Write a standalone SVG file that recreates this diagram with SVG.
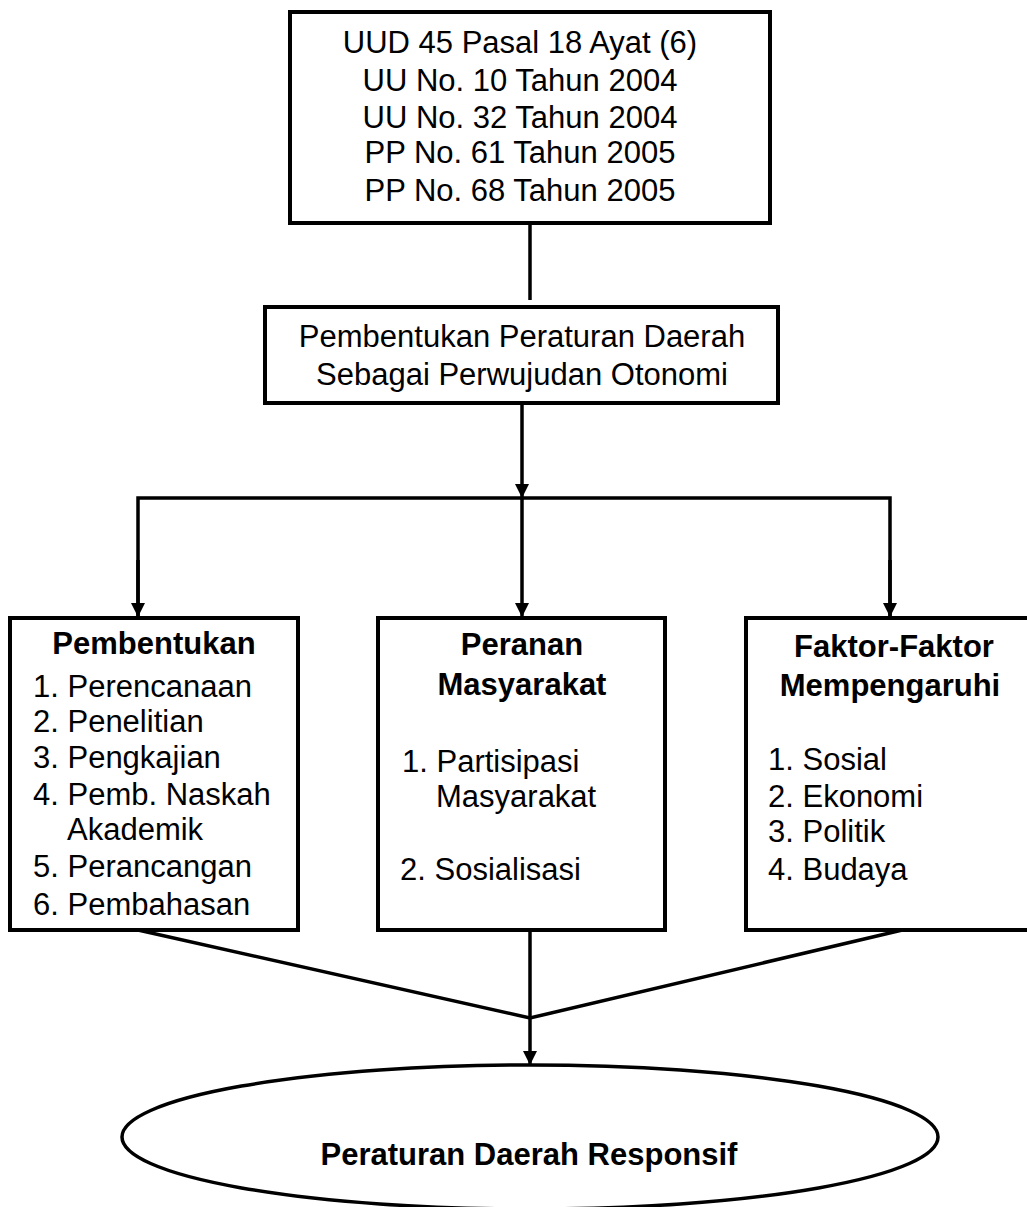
<svg xmlns="http://www.w3.org/2000/svg" width="1027" height="1207" viewBox="0 0 1027 1207">
<style>
.box{fill:#fff;stroke:#000;stroke-width:4}
.ell{fill:#fff;stroke:#000;stroke-width:3.5}
.ln{fill:none;stroke:#000;stroke-width:3.5}
.t{font-family:"Liberation Sans",Arial,sans-serif;font-size:31px;fill:#000}
.c{text-anchor:middle}
.b{font-weight:bold}
</style>
<defs>
<marker id="arr" markerUnits="userSpaceOnUse" markerWidth="16" markerHeight="16" viewBox="0 0 16 16" refX="14" refY="8" orient="auto">
<path d="M0,1 L14,8 L0,15 Z" fill="#000"/>
</marker>
</defs>
<rect width="1027" height="1207" fill="#fff"/>
<g id="connectors">
<line class="ln" x1="530" y1="223" x2="530" y2="300"/>
<line class="ln" x1="522" y1="403" x2="522" y2="498" marker-end="url(#arr)"/>
<polyline class="ln" points="138,617 138,498 890,498 890,617"/>
<line class="ln" x1="138" y1="560" x2="138" y2="617" marker-end="url(#arr)"/>
<line class="ln" x1="890" y1="560" x2="890" y2="617" marker-end="url(#arr)"/>
<line class="ln" x1="522" y1="498" x2="522" y2="617" marker-end="url(#arr)"/>
<polyline class="ln" points="138,930 530,1018 915,927"/>
<line class="ln" x1="530" y1="930" x2="530" y2="1065" marker-end="url(#arr)"/>
</g>
<g id="node-dasar">
<rect class="box" x="290" y="12" width="480" height="211"/>
<text class="t c" x="520" y="53">UUD 45 Pasal 18 Ayat (6)</text>
<text class="t c" x="520" y="91">UU No. 10 Tahun 2004</text>
<text class="t c" x="520" y="128">UU No. 32 Tahun 2004</text>
<text class="t c" x="520" y="163">PP No. 61 Tahun 2005</text>
<text class="t c" x="520" y="201">PP No. 68 Tahun 2005</text>
</g>
<g id="node-pembentukan-perda">
<rect class="box" x="265" y="307" width="513" height="96"/>
<text class="t c" x="522" y="347">Pembentukan Peraturan Daerah</text>
<text class="t c" x="522" y="385">Sebagai Perwujudan Otonomi</text>
</g>
<g id="node-pembentukan">
<rect class="box" x="10" y="618" width="288" height="312"/>
<text class="t c b" x="154" y="654">Pembentukan</text>
<text class="t" x="33" y="697">1. Perencanaan</text>
<text class="t" x="33" y="732">2. Penelitian</text>
<text class="t" x="33" y="768">3. Pengkajian</text>
<text class="t" x="33" y="805">4. Pemb. Naskah</text>
<text class="t" x="67" y="840">Akademik</text>
<text class="t" x="33" y="877">5. Perancangan</text>
<text class="t" x="33" y="915">6. Pembahasan</text>
</g>
<g id="node-peranan">
<rect class="box" x="378" y="618" width="287" height="312"/>
<text class="t c b" x="522" y="655">Peranan</text>
<text class="t c b" x="522" y="695">Masyarakat</text>
<text class="t" x="402" y="772">1. Partisipasi</text>
<text class="t" x="436" y="807">Masyarakat</text>
<text class="t" x="400" y="880">2. Sosialisasi</text>
</g>
<g id="node-faktor">
<rect class="box" x="746" y="618" width="300" height="312"/>
<text class="t c b" x="894" y="657">Faktor-Faktor</text>
<text class="t c b" x="890" y="696">Mempengaruhi</text>
<text class="t" x="768" y="770">1. Sosial</text>
<text class="t" x="768" y="807">2. Ekonomi</text>
<text class="t" x="768" y="842">3. Politik</text>
<text class="t" x="768" y="880">4. Budaya</text>
</g>
<g id="node-perda-responsif">
<ellipse class="ell" cx="530" cy="1137" rx="408" ry="72"/>
<text class="t c b" x="529" y="1165">Peraturan Daerah Responsif</text>
</g>
</svg>
